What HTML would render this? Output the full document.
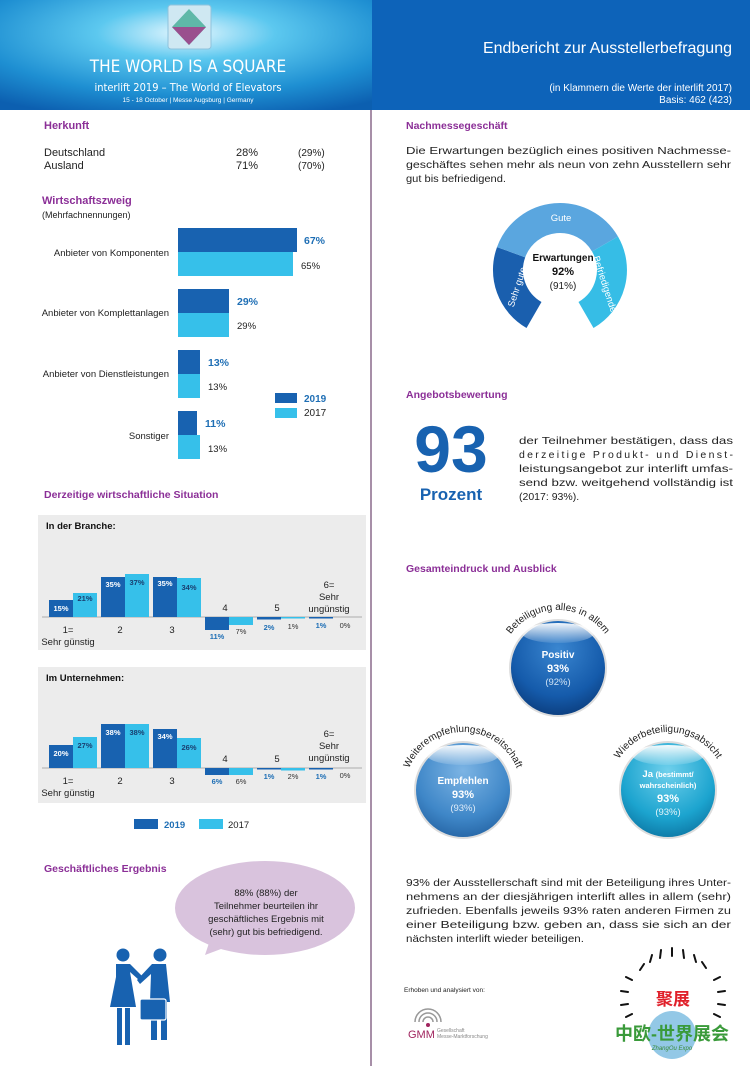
<!DOCTYPE html>
<html><head><meta charset="utf-8"><style>
html,body{margin:0;padding:0;background:#fff}
svg{display:block;font-family:"Liberation Sans",Arial,sans-serif}
</style></head><body>
<svg width="750" height="1066" viewBox="0 0 750 1066" xmlns="http://www.w3.org/2000/svg">
<defs>
<radialGradient id="hg" cx="0.5" cy="0.3" r="0.8">
<stop offset="0" stop-color="#e8f8ff"/><stop offset="0.3" stop-color="#5cc8ef"/><stop offset="0.7" stop-color="#1e8fd2"/><stop offset="1" stop-color="#0c5fb0"/></radialGradient>
<radialGradient id="s1" cx="0.5" cy="0.3" r="0.7"><stop offset="0" stop-color="#3a86d0"/><stop offset="0.7" stop-color="#155bab"/><stop offset="1" stop-color="#0c3f80"/></radialGradient>
<radialGradient id="s2" cx="0.5" cy="0.3" r="0.7"><stop offset="0" stop-color="#7cb4e4"/><stop offset="0.7" stop-color="#3f87c8"/><stop offset="1" stop-color="#2868a8"/></radialGradient>
<radialGradient id="s3" cx="0.5" cy="0.3" r="0.7"><stop offset="0" stop-color="#6fd0ec"/><stop offset="0.7" stop-color="#1ca4cf"/><stop offset="1" stop-color="#0e7ba8"/></radialGradient>
<linearGradient id="cap" x1="0" y1="0" x2="0" y2="1"><stop offset="0" stop-color="#fff" stop-opacity="0.95"/><stop offset="1" stop-color="#fff" stop-opacity="0.1"/></linearGradient>
<path id="a1" d="M500,668 A58,58 0 0 1 616,668"/>
<path id="a2" d="M405,790 A58,58 0 0 1 521,790"/>
<path id="a3" d="M610,790 A58,58 0 0 1 726,790"/>
</defs>

<rect x="0" y="0" width="372" height="110" fill="url(#hg)"/>
<rect x="372" y="0" width="378" height="110" fill="#0d63b9"/>
<rect x="168" y="5" width="43" height="44" rx="3" fill="#cfe8f2" stroke="#8fc2dc"/>
<polygon points="189,9 206,27 189,45 172,27" fill="#5fb8a8"/>
<polygon points="172,27 206,27 189,45" fill="#9a4f8e"/>
<text x="188" y="72" fill="#fff" font-size="17" text-anchor="middle" font-family="DejaVu Sans Condensed, Liberation Sans, sans-serif">THE WORLD IS A SQUARE</text>
<text x="188" y="91" fill="#fff" font-size="11" text-anchor="middle" font-family="DejaVu Sans Condensed, Liberation Sans, sans-serif">interlift 2019 – The World of Elevators</text>
<text x="188" y="102" fill="#fff" font-size="6.5" text-anchor="middle">15 - 18 October | Messe Augsburg | Germany</text>
<text x="732" y="53" fill="#fff" font-size="16" text-anchor="end">Endbericht zur Ausstellerbefragung</text>
<text x="732" y="91" fill="#fff" font-size="10" text-anchor="end">(in Klammern die Werte der interlift 2017)</text>
<text x="732" y="103" fill="#fff" font-size="10" text-anchor="end">Basis: 462 (423)</text>

<line x1="371" y1="110" x2="371" y2="1066" stroke="#8a6a8c" stroke-width="1.5"/>

<g font-size="11" fill="#222">
<text x="44" y="129" fill="#8b2f97" font-weight="bold">Herkunft</text>
<text x="44" y="156">Deutschland</text><text x="236" y="156">28%</text><text x="298" y="156" font-size="10">(29%)</text>
<text x="44" y="169">Ausland</text><text x="236" y="169">71%</text><text x="298" y="169" font-size="10">(70%)</text>
<text x="42" y="204" fill="#8b2f97" font-weight="bold">Wirtschaftszweig</text>
<text x="42" y="218" font-size="9">(Mehrfachnennungen)</text>
</g>
<g fill="#1862b0">
<rect x="178" y="228" width="119" height="24"/><rect x="178" y="289" width="51" height="24"/><rect x="178" y="350" width="22" height="24"/><rect x="178" y="411" width="19" height="24"/>
<rect x="275" y="393" width="22" height="10"/>
</g>
<g fill="#36c0ea">
<rect x="178" y="252" width="115" height="24"/><rect x="178" y="313" width="51" height="24"/><rect x="178" y="374" width="22" height="24"/><rect x="178" y="435" width="22" height="24"/>
<rect x="275" y="408" width="22" height="10"/>
</g>
<g font-size="9.5" fill="#222" text-anchor="end">
<text x="169" y="256">Anbieter von Komponenten</text>
<text x="169" y="316">Anbieter von Komplettanlagen</text>
<text x="169" y="377">Anbieter von Dienstleistungen</text>
<text x="169" y="439">Sonstiger</text>
</g>
<g font-size="10.5" font-weight="bold" fill="#1f6fb5">
<text x="304" y="244">67%</text><text x="237" y="305">29%</text><text x="208" y="366">13%</text><text x="205" y="427">11%</text><text x="304" y="402" font-size="10">2019</text>
</g>
<g font-size="9.5" fill="#222">
<text x="301" y="269">65%</text><text x="237" y="329">29%</text><text x="208" y="390">13%</text><text x="208" y="452">13%</text><text x="304" y="416" font-size="10">2017</text>
</g>

<text x="44" y="498" fill="#8b2f97" font-weight="bold" font-size="10.5">Derzeitige wirtschaftliche Situation</text>

<rect x="38" y="515" width="328" height="135" fill="#ececec"/>
<text x="46" y="529" font-size="9.5" font-weight="bold" fill="#111">In der Branche:</text>
<line x1="42" y1="617" x2="362" y2="617" stroke="#999" stroke-width="0.8"/>
<g fill="#1862b0">
<rect x="49" y="600" width="24" height="17"/><rect x="101" y="577" width="24" height="40"/><rect x="153" y="577" width="24" height="40"/>
<rect x="205" y="617" width="24" height="13"/><rect x="257" y="617" width="24" height="2.5"/><rect x="309" y="617" width="24" height="1.5"/>
</g>
<g fill="#36c0ea">
<rect x="73" y="593" width="24" height="24"/><rect x="125" y="574" width="24" height="43"/><rect x="177" y="578" width="24" height="39"/>
<rect x="229" y="617" width="24" height="8"/><rect x="281" y="617" width="24" height="1.5"/>
</g>
<g font-size="7.5" font-weight="bold" fill="#fff" text-anchor="middle">
<text x="61" y="611">15%</text><text x="113" y="587">35%</text><text x="165" y="586">35%</text>
</g>
<g font-size="7.5" font-weight="bold" fill="#1a3f70" text-anchor="middle">
<text x="85" y="601">21%</text><text x="137" y="585">37%</text><text x="189" y="590">34%</text>
</g>
<g font-size="7.5" font-weight="bold" fill="#1f6fb5" text-anchor="middle"><text x="217" y="639">11%</text><text x="269" y="630">2%</text><text x="321" y="628">1%</text></g>
<g font-size="7.5" fill="#333" text-anchor="middle"><text x="241" y="634">7%</text><text x="293" y="629">1%</text><text x="345" y="628">0%</text></g>
<g font-size="9.5" fill="#222" text-anchor="middle">
<text x="68" y="633">1=</text><text x="68" y="645">Sehr günstig</text><text x="120" y="633">2</text><text x="172" y="633">3</text>
<text x="225" y="611">4</text><text x="277" y="611">5</text>
<text x="329" y="588">6=</text><text x="329" y="600">Sehr</text><text x="329" y="612">ungünstig</text>
</g>

<rect x="38" y="667" width="328" height="136" fill="#ececec"/>
<text x="46" y="681" font-size="9.5" font-weight="bold" fill="#111">Im Unternehmen:</text>
<line x1="42" y1="768" x2="362" y2="768" stroke="#999" stroke-width="0.8"/>
<g fill="#1862b0">
<rect x="49" y="745" width="24" height="23"/><rect x="101" y="724" width="24" height="44"/><rect x="153" y="729" width="24" height="39"/>
<rect x="205" y="768" width="24" height="7"/><rect x="257" y="768" width="24" height="1.5"/><rect x="309" y="768" width="24" height="1.5"/>
</g>
<g fill="#36c0ea">
<rect x="73" y="737" width="24" height="31"/><rect x="125" y="724" width="24" height="44"/><rect x="177" y="738" width="24" height="30"/>
<rect x="229" y="768" width="24" height="7"/><rect x="281" y="768" width="24" height="2.5"/>
</g>
<g font-size="7.5" font-weight="bold" fill="#fff" text-anchor="middle">
<text x="61" y="756">20%</text><text x="113" y="735">38%</text><text x="165" y="739">34%</text>
</g>
<g font-size="7.5" font-weight="bold" fill="#1a3f70" text-anchor="middle">
<text x="85" y="748">27%</text><text x="137" y="735">38%</text><text x="189" y="750">26%</text>
</g>
<g font-size="7.5" font-weight="bold" fill="#1f6fb5" text-anchor="middle"><text x="217" y="784">6%</text><text x="269" y="779">1%</text><text x="321" y="779">1%</text></g>
<g font-size="7.5" fill="#333" text-anchor="middle"><text x="241" y="784">6%</text><text x="293" y="779">2%</text><text x="345" y="778">0%</text></g>
<g font-size="9.5" fill="#222" text-anchor="middle">
<text x="68" y="784">1=</text><text x="68" y="796">Sehr günstig</text><text x="120" y="784">2</text><text x="172" y="784">3</text>
<text x="225" y="762">4</text><text x="277" y="762">5</text>
<text x="329" y="737">6=</text><text x="329" y="749">Sehr</text><text x="329" y="761">ungünstig</text>
</g>
<rect x="134" y="819" width="24" height="10" fill="#1862b0"/><text x="164" y="828" font-size="9.5" font-weight="bold" fill="#1f6fb5">2019</text>
<rect x="199" y="819" width="24" height="10" fill="#36c0ea"/><text x="228" y="828" font-size="9.5" fill="#222">2017</text>

<text x="44" y="872" fill="#8b2f97" font-weight="bold" font-size="10.5">Geschäftliches Ergebnis</text>
<path d="M215,925 L205,955 L245,940 Z" fill="#d9c3dd"/>
<ellipse cx="265" cy="908" rx="90" ry="47" fill="#d9c3dd"/>
<g font-size="9.5" fill="#222" text-anchor="middle">
<text x="266" y="896">88% (88%) der</text><text x="266" y="909">Teilnehmer beurteilen ihr</text>
<text x="266" y="922">geschäftliches Ergebnis mit</text><text x="266" y="935">(sehr) gut bis befriedigend.</text>
</g>
<g fill="#1862b0">
<circle cx="123" cy="955" r="6.5"/><path d="M116,964 h14 l12,12 l-3,4 l-9,-8 l6,35 h-26 l6,-30 z"/><rect x="117" y="1008" width="5" height="37"/><rect x="125" y="1008" width="5" height="37"/>
<circle cx="160" cy="955" r="6.5"/><path d="M152,964 h14 l4,38 h-20 l1,-28 l-11,10 l-3,-4 z"/><rect x="151" y="1000" width="6" height="40"/><rect x="161" y="1000" width="6" height="40"/>
<rect x="140" y="999" width="26" height="21" rx="2" stroke="#fff" stroke-width="1.2"/>
</g>

<text x="406" y="129" fill="#8b2f97" font-weight="bold" font-size="10.5">Nachmessegeschäft</text>
<g font-size="10.5" fill="#222">
<text x="406" y="154" textLength="325" lengthAdjust="spacingAndGlyphs">Die Erwartungen bezüglich eines positiven Nachmesse-</text>
<text x="406" y="168" textLength="325" lengthAdjust="spacingAndGlyphs">geschäftes sehen mehr als neun von zehn Ausstellern sehr</text>
<text x="406" y="182" textLength="100" lengthAdjust="spacingAndGlyphs">gut bis befriedigend.</text>
</g>
<g fill="none" stroke-width="30">
<path d="M534,315 A52,52 0 0 1 511.1,252.2" stroke="#1a5fae"/>
<path d="M511.1,252.2 A52,52 0 0 1 605,244" stroke="#5aa6df"/>
<path d="M605,244 A52,52 0 0 1 586,315" stroke="#36bde6"/>
</g>
<text x="561" y="221" font-size="9.5" fill="#fff" text-anchor="middle">Gute</text>
<text x="0" y="0" font-size="9.5" fill="#fff" text-anchor="middle" transform="translate(520,288) rotate(-72)">Sehr gute</text>
<text x="0" y="0" font-size="9.5" fill="#fff" text-anchor="middle" transform="translate(602,285) rotate(72)">Befriedigende</text>
<text x="563" y="261" font-size="10" font-weight="bold" fill="#111" text-anchor="middle">Erwartungen</text>
<text x="563" y="275" font-size="11" font-weight="bold" fill="#111" text-anchor="middle">92%</text>
<text x="563" y="289" font-size="10" fill="#222" text-anchor="middle">(91%)</text>

<text x="406" y="398" fill="#8b2f97" font-weight="bold" font-size="10.5">Angebotsbewertung</text>
<text x="451" y="472" font-size="66" font-weight="bold" fill="#1862b0" text-anchor="middle">93</text>
<text x="451" y="500" font-size="17" font-weight="bold" fill="#1862b0" text-anchor="middle">Prozent</text>
<g font-size="10.5" fill="#222">
<text x="519" y="444" textLength="214" lengthAdjust="spacingAndGlyphs">der Teilnehmer bestätigen, dass das</text>
<text x="519" y="458" textLength="214" lengthAdjust="spacing">derzeitige  Produkt-  und  Dienst-</text>
<text x="519" y="472" textLength="214" lengthAdjust="spacingAndGlyphs">leistungsangebot zur interlift umfas-</text>
<text x="519" y="486" textLength="214" lengthAdjust="spacingAndGlyphs">send bzw. weitgehend vollständig ist</text>
<text x="519" y="500">(2017: 93%).</text>
</g>

<text x="406" y="572" fill="#8b2f97" font-weight="bold" font-size="10.5">Gesamteindruck und Ausblick</text>
<circle cx="558" cy="668" r="48" fill="url(#s1)" stroke="#ddd" stroke-width="2"/>
<ellipse cx="558" cy="633" rx="36" ry="10" fill="url(#cap)"/>
<circle cx="463" cy="790" r="48" fill="url(#s2)" stroke="#ddd" stroke-width="2"/>
<ellipse cx="463" cy="755" rx="36" ry="10" fill="url(#cap)"/>
<circle cx="668" cy="790" r="48" fill="url(#s3)" stroke="#ddd" stroke-width="2"/>
<ellipse cx="668" cy="755" rx="36" ry="10" fill="url(#cap)"/>
<g font-size="10" fill="#222"><text><textPath href="#a1" startOffset="50%" text-anchor="middle">Beteiligung alles in allem</textPath></text>
<text><textPath href="#a2" startOffset="50%" text-anchor="middle">Weiterempfehlungsbereitschaft</textPath></text>
<text><textPath href="#a3" startOffset="50%" text-anchor="middle">Wiederbeteiligungsabsicht</textPath></text></g>
<g fill="#fff" text-anchor="middle">
<text x="558" y="658" font-size="10" font-weight="bold">Positiv</text><text x="558" y="672" font-size="11" font-weight="bold">93%</text><text x="558" y="685" font-size="9.5" fill="#cfe2f5">(92%)</text>
<text x="463" y="784" font-size="10" font-weight="bold">Empfehlen</text><text x="463" y="798" font-size="11" font-weight="bold">93%</text><text x="463" y="811" font-size="9.5" fill="#e0ecf8">(93%)</text>
<text x="668" y="777" font-size="9.5" font-weight="bold">Ja <tspan font-size="7.5">(bestimmt/</tspan></text><text x="668" y="788" font-size="7.5" font-weight="bold">wahrscheinlich)</text><text x="668" y="802" font-size="11" font-weight="bold">93%</text><text x="668" y="815" font-size="9.5" fill="#e0f4fa">(93%)</text>
</g>

<g font-size="10.5" fill="#222">
<text x="406" y="886" textLength="325" lengthAdjust="spacingAndGlyphs">93% der Ausstellerschaft sind mit der Beteiligung ihres Unter-</text>
<text x="406" y="900" textLength="325" lengthAdjust="spacingAndGlyphs">nehmens an der diesjährigen interlift alles in allem (sehr)</text>
<text x="406" y="914" textLength="325" lengthAdjust="spacingAndGlyphs">zufrieden. Ebenfalls jeweils 93% raten anderen Firmen zu</text>
<text x="406" y="928" textLength="325" lengthAdjust="spacingAndGlyphs">einer Beteiligung bzw. geben an, dass sie sich an der</text>
<text x="406" y="942" textLength="178" lengthAdjust="spacingAndGlyphs">nächsten interlift wieder beteiligen.</text>
</g>
<text x="404" y="992" font-size="6.5" fill="#222">Erhoben und analysiert von:</text>
<g fill="none" stroke="#999" stroke-width="1.5"><path d="M415,1022 A13,13 0 0 1 441,1022"/><path d="M419,1022 A9,9 0 0 1 437,1022"/><path d="M423,1022 A5,5 0 0 1 433,1022"/></g>
<circle cx="428" cy="1025" r="2" fill="#a0245e"/>
<text x="408" y="1038" font-size="11" fill="#a0245e">GMM</text>
<text x="437" y="1032" font-size="5" fill="#888">Gesellschaft</text><text x="437" y="1038" font-size="5" fill="#888">Messe-Marktforschung</text>

<g stroke="#111" stroke-width="2" stroke-linecap="round">
<path d="M640,970 l4,-6 M650,962 l2,-7 M660,958 l1,-8 M672,956 l0,-8 M684,958 l-1,-8 M696,962 l-2,-7 M706,968 l-4,-6 M632,980 l-6,-3 M714,980 l6,-3 M628,992 l-7,-1 M718,992 l7,-1 M628,1004 l-7,1 M718,1004 l7,1 M632,1014 l-6,3 M714,1014 l6,3"/>
</g>
<text x="673" y="1005" font-size="17" font-weight="bold" fill="#e0202a" text-anchor="middle" font-family="Liberation Sans, Noto Sans CJK SC, sans-serif">聚展</text>
<circle cx="672" cy="1035" r="24" fill="#3a9ad2" opacity="0.55"/>
<text x="672" y="1040" font-size="18" font-weight="bold" fill="#3a9a3a" text-anchor="middle" font-family="Liberation Sans, Noto Sans CJK SC, sans-serif">中欧-世界展会</text>
<text x="672" y="1050" font-size="6" fill="#3a8a3a" text-anchor="middle" font-style="italic">ZhangOu Expo</text>
</svg>
</body></html>
